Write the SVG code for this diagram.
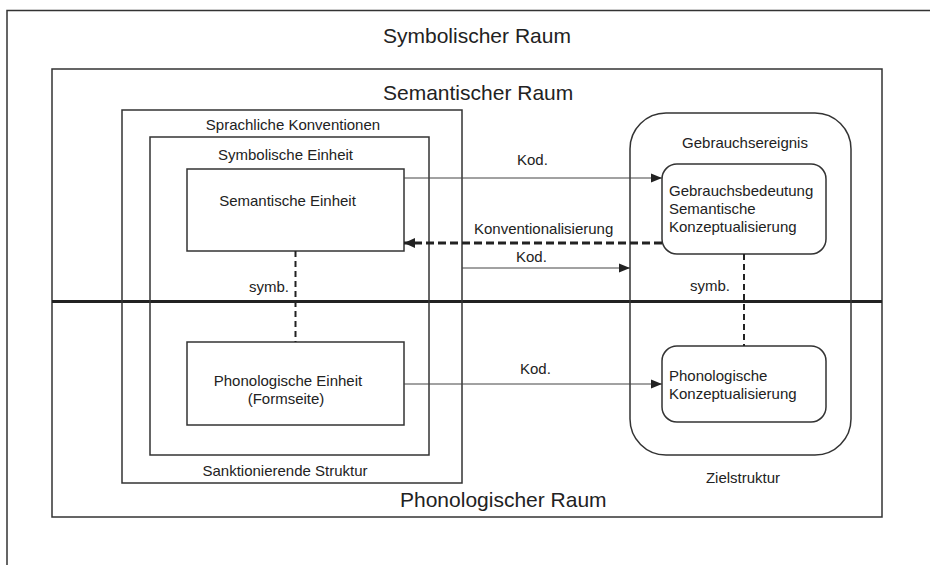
<svg xmlns="http://www.w3.org/2000/svg" width="930" height="565" viewBox="0 0 930 565">
<style>
  .box { fill: none; stroke: #333; stroke-width: 1.5; }
  .t { font-family: "Liberation Sans", Arial, sans-serif; font-size: 15px; fill: #222; }
  .big { font-family: "Liberation Sans", Arial, sans-serif; font-size: 21px; fill: #222; }
  .mid { text-anchor: middle; }
  .arr { fill: none; stroke: #444; stroke-width: 1; }
  .dash { fill: none; stroke: #222; stroke-width: 3; stroke-dasharray: 8 4; }
  .vdash { fill: none; stroke: #222; stroke-width: 2; stroke-dasharray: 6 4; }
</style>
<defs>
  <marker id="ah" markerUnits="userSpaceOnUse" markerWidth="12" markerHeight="10" refX="11" refY="5" orient="auto">
    <path d="M0,0.5 L11,5 L0,9.5 Z" fill="#222"/>
  </marker>
  <marker id="ahb" markerUnits="userSpaceOnUse" markerWidth="12" markerHeight="12" refX="11" refY="6" orient="auto">
    <path d="M0,1 L11,6 L0,11 Z" fill="#222"/>
  </marker>
</defs>
<rect width="930" height="565" fill="#fff"/>

<g id="symbolischer-raum">
  <path class="box" d="M7,565 V10.5 H930"/>
  <text class="big" x="383" y="43">Symbolischer Raum</text>
</g>

<g id="semantischer-raum">
  <rect class="box" x="52" y="69" width="830" height="448"/>
  <text class="big" x="383" y="100">Semantischer Raum</text>
</g>

<g id="phonologischer-raum">
  <line x1="52" y1="301.5" x2="882" y2="301.5" stroke="#222" stroke-width="3"/>
  <text class="big" x="400" y="507">Phonologischer Raum</text>
</g>

<g id="sprachliche-konventionen">
  <rect class="box" x="122" y="110" width="340" height="373"/>
  <text class="t mid" x="293" y="130">Sprachliche Konventionen</text>
  <text class="t mid" x="285" y="476">Sanktionierende Struktur</text>
</g>

<g id="symbolische-einheit">
  <rect class="box" x="150" y="137" width="279" height="318"/>
  <text class="t mid" x="285.5" y="160">Symbolische Einheit</text>
</g>

<g id="semantische-einheit">
  <rect class="box" x="187" y="169" width="217" height="82"/>
  <text class="t mid" x="287.5" y="206">Semantische Einheit</text>
</g>

<g id="phonologische-einheit">
  <rect class="box" x="187" y="342" width="217" height="83"/>
  <text class="t mid" x="288" y="386">Phonologische Einheit</text>
  <text class="t mid" x="286" y="404">(Formseite)</text>
</g>

<g id="gebrauchsereignis">
  <rect class="box" x="630" y="113" width="221" height="342" rx="36" ry="36"/>
  <text class="t mid" x="745" y="148">Gebrauchsereignis</text>
  <text class="t mid" x="743" y="483">Zielstruktur</text>
</g>

<g id="gebrauchsbedeutung">
  <rect class="box" x="662" y="164" width="164" height="90" rx="15" ry="15"/>
  <text class="t" x="669" y="196">Gebrauchsbedeutung</text>
  <text class="t" x="669" y="214">Semantische</text>
  <text class="t" x="669" y="232">Konzeptualisierung</text>
</g>

<g id="phonologische-konzeptualisierung">
  <rect class="box" x="662" y="346" width="164" height="76" rx="15" ry="15"/>
  <text class="t" x="669" y="381">Phonologische</text>
  <text class="t" x="669" y="399">Konzeptualisierung</text>
</g>

<g id="connectors">
  <line class="arr" x1="404" y1="178" x2="662" y2="178" marker-end="url(#ah)"/>
  <text class="t" x="517" y="165">Kod.</text>
  <line class="dash" x1="662" y1="243" x2="404" y2="243" marker-end="url(#ahb)"/>
  <text class="t" x="474" y="234">Konventionalisierung</text>
  <line class="arr" x1="462" y1="268" x2="630" y2="268" marker-end="url(#ah)"/>
  <text class="t" x="516" y="262">Kod.</text>
  <line class="arr" x1="404" y1="384" x2="662" y2="384" marker-end="url(#ah)"/>
  <text class="t" x="520" y="374">Kod.</text>
  <line class="vdash" x1="295.5" y1="251" x2="295.5" y2="342"/>
  <text class="t" x="249" y="292">symb.</text>
  <line class="vdash" x1="744" y1="254" x2="744" y2="346"/>
  <text class="t" x="690" y="291">symb.</text>
</g>
</svg>
